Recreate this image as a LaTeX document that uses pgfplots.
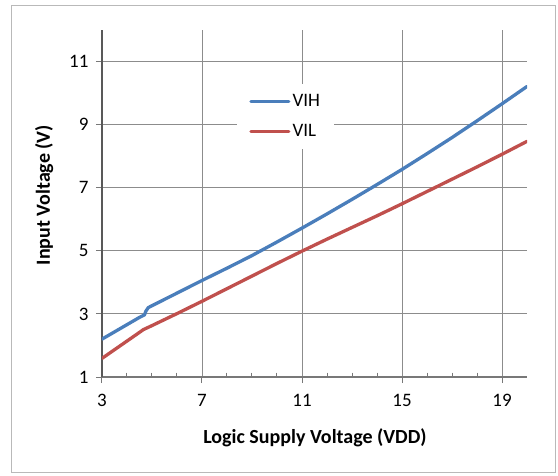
\documentclass[border=0pt]{standalone}
\usepackage{pgfplots}
\pgfplotsset{compat=1.18}
\usepackage{fontspec}
\setmainfont{Carlito}
\definecolor{vih}{RGB}{74,126,187}
\definecolor{vil}{RGB}{192,80,77}
\definecolor{gridc}{RGB}{140,140,140}
\definecolor{axc}{RGB}{120,120,120}
\begin{document}
\begin{tikzpicture}
\path[use as bounding box] (0,0) rectangle (558pt,475pt);
\draw[gray!55, line width=1pt] (11.5pt,2.5pt) rectangle (555.5pt,469pt);
\begin{axis}[
  at={(102pt,98pt)}, anchor=south west,
  scale only axis, width=425pt, height=347pt,
  xmin=3, xmax=20, ymin=1, ymax=12,
  xtick={3,7,11,15,19}, ytick={1,3,5,7,9,11},
  minor x tick num=3,
  axis lines=left,
  axis line style={-, axc, line width=1.3pt},
  y axis line style={-, black!65, line width=1.6pt},
  tick align=outside,
  major tick length=6pt,
  minor tick length=-4.5pt,
  tick style={axc, line width=1pt},
  grid=major,
  major grid style={gridc, line width=0.9pt},
  font=\fontsize{19}{22}\selectfont,
  /pgf/number format/assume math mode=true,
  xticklabel style={yshift=-8pt},
  yticklabel style={xshift=-4pt},
  xlabel={\fontsize{20}{24}\selectfont\bfseries Logic Supply Voltage (VDD)},
  ylabel={\fontsize{20}{24}\selectfont\bfseries Input Voltage (V)},
  xlabel style={at={(axis description cs:0.501,-0.175)}, anchor=center},
  ylabel style={at={(axis description cs:-0.136,0.524)}, anchor=center, rotate=0},
  legend style={at={(axis description cs:0.432,0.751)}, anchor=center,
    draw=none, fill=white, inner xsep=12pt, inner ysep=9pt,
    row sep=12pt, font=\fontsize{19}{22}\selectfont},
  legend cell align=left,
  legend image code/.code={\draw[#1, line width=3.2pt] (0pt,0pt) -- (38pt,0pt);},
]
\addplot[vih, line width=3.3pt, line cap=round, line join=round] coordinates {
(3,2.20) (3.5,2.43) (4.0,2.66) (4.5,2.89) (4.7,2.97) (4.75,3.08) (4.85,3.20)
(5.5,3.46) (6,3.66) (7,4.06) (8,4.45) (9,4.85) (10,5.28) (11,5.72) (12,6.17)
(13,6.63) (14,7.10) (15,7.58) (16,8.08) (17,8.59) (18,9.12) (19,9.66) (20,10.21)
};
\addlegendentry{VIH}
\addplot[vil, line width=3.3pt, line cap=round, line join=round] coordinates {
(3,1.59) (3.5,1.865) (4,2.14) (4.5,2.415) (4.65,2.50) (5,2.63) (6,3.01) (7,3.40)
(8,3.80) (9,4.20) (10,4.60) (11,4.99) (12,5.37) (13,5.74) (14,6.11) (15,6.49)
(16,6.88) (17,7.27) (18,7.66) (19,8.06) (20,8.47)
};
\addlegendentry{VIL}
\end{axis}
\end{tikzpicture}
\end{document}
